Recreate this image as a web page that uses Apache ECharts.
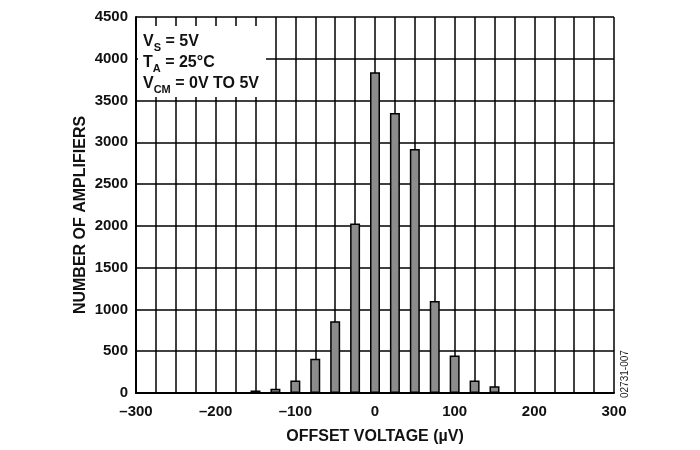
<!DOCTYPE html>
<html>
<head>
<meta charset="utf-8">
<script src="https://cdn.jsdelivr.net/npm/echarts@6/dist/echarts.min.js"></script>
<style>html,body{margin:0;padding:0;background:#fff}#c{width:700px;height:450px}</style>
</head>
<body>
<div id="c"></div>
<script>
var offsets = [-150, -125, -100, -75, -50, -25, 0, 25, 50, 75, 100, 125, 150];
var counts = [30, 50, 150, 410, 860, 2030, 3840, 3350, 2920, 1100, 450, 150, 80];
var xTicks = [-300, -200, -100, 0, 100, 200, 300];
var yTicks = [0, 500, 1000, 1500, 2000, 2500, 3000, 3500, 4000, 4500];

var FONT = '"Liberation Sans", Arial, sans-serif';
var chart = echarts.init(document.getElementById('c'), null, {renderer: 'canvas'});
var data = offsets.map(function (x, i) { return [x, counts[i]]; });

var rich = {
  b: {fontFamily: FONT, fontWeight: 'bold', fontSize: 16, fill: '#111', height: 16, lineHeight: 19, verticalAlign: 'top'},
  s: {fontFamily: FONT, fontWeight: 'bold', fontSize: 11, fill: '#111', height: 11, lineHeight: 19, verticalAlign: 'bottom'}
};

chart.setOption({
  animation: false,
  backgroundColor: '#fff',
  grid: {left: 136, right: 86, top: 17, bottom: 54, containLabel: false},
  xAxis: {
    type: 'value', min: -300, max: 300, interval: 25,
    name: 'OFFSET VOLTAGE (µV)', nameLocation: 'middle', nameGap: 36,
    nameTextStyle: {fontFamily: FONT, fontWeight: 'bold', fontSize: 16, color: '#111'},
    axisLine: {show: true, onZero: false, lineStyle: {color: '#000', width: 2}},
    axisTick: {show: false},
    axisLabel: {
      fontFamily: FONT, fontWeight: 'bold', fontSize: 15, color: '#111', margin: 11,
      showMinLabel: true, showMaxLabel: true,
      formatter: function (v) {
        if (xTicks.indexOf(v) < 0) return '';
        return v < 0 ? '\u2013' + Math.abs(v) : String(v);
      }
    },
    splitLine: {show: true, lineStyle: {color: '#000', width: 1.5}}
  },
  yAxis: {
    type: 'value', min: 0, max: 4500, interval: 500,
    axisLine: {show: true, onZero: false, lineStyle: {color: '#000', width: 2}},
    axisTick: {show: false},
    axisLabel: {
      fontFamily: FONT, fontWeight: 'bold', fontSize: 15, color: '#111', margin: 8,
      formatter: function (v) { return yTicks.indexOf(v) >= 0 ? String(v) : ''; }
    },
    splitLine: {show: true, lineStyle: {color: '#000', width: 1.5}}
  },
  series: [{
    type: 'bar',
    data: data,
    barWidth: 10,
    itemStyle: {color: '#8c8c8c', borderColor: '#000', borderWidth: 1.5},
    z: 3
  }],
  graphic: [
    {type: 'text', x: 81, y: 215, rotation: Math.PI / 2, z: 11, style: {
      text: 'NUMBER OF AMPLIFIERS', fontFamily: FONT, fontWeight: 'bold', fontSize: 16, fill: '#111',
      align: 'center', verticalAlign: 'middle'
    }},
    {type: 'rect', shape: {x: 138, y: 26, width: 128, height: 71}, style: {fill: '#fff'}, z: 10},
    {type: 'text', x: 143, y: 34, z: 11, style: {text: '{b|V}{s|S}{b| = 5V}', rich: rich}},
    {type: 'text', x: 143, y: 55, z: 11, style: {text: '{b|T}{s|A}{b| = 25°C}', rich: rich}},
    {type: 'text', x: 143, y: 76, z: 11, style: {text: '{b|V}{s|CM}{b| = 0V TO 5V}', rich: rich}},
    {type: 'text', x: 620, y: 398, rotation: Math.PI / 2, z: 11, style: {
      text: '02731-007', fontFamily: FONT, fontSize: 10, fill: '#222'
    }}
  ]
});
</script>
</body>
</html>
